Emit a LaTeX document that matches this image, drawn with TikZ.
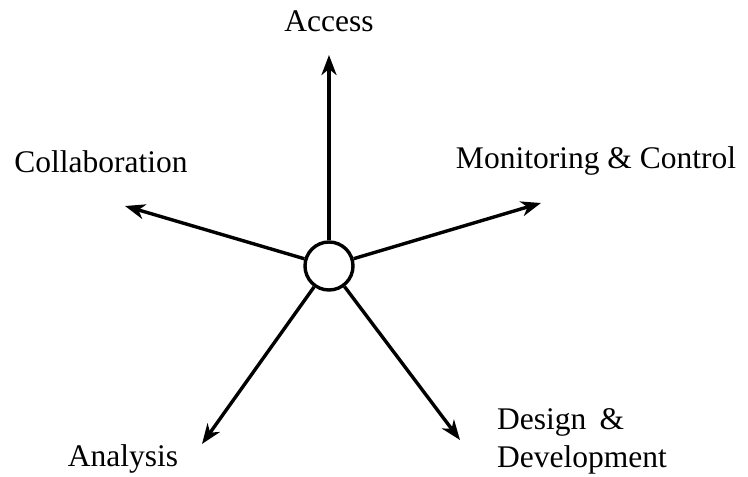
\documentclass[tikz,border=0pt]{standalone}
\usepackage{fontspec}
\setmainfont{Liberation Serif}
\usetikzlibrary{arrows.meta}
\begin{document}
\begin{tikzpicture}[x=1pt,y=-1pt,
  lbl/.style={font=\fontsize{31.5}{38}\selectfont, inner sep=0pt},
  spoke/.style={line width=3.4pt, -{Stealth[length=20pt,width=15pt,inset=6pt]}}]
\useasboundingbox (0,0) rectangle (748,477);
\node[circle, draw, line width=3.4pt, minimum size=48pt, inner sep=0pt] (c) at (329,266) {};
\coordinate (tA) at (329,55);
\coordinate (tC) at (125,206);
\coordinate (tM) at (541,203);
\coordinate (tL) at (202,444);
\coordinate (tR) at (460,440);
\draw[spoke] (c) -- (tA);
\draw[spoke] (c) -- (tC);
\draw[spoke] (c) -- (tM);
\draw[spoke] (c) -- (tL);
\draw[spoke] (c) -- (tR);
\node[lbl] (access) at (329,21) {Access};
\node[lbl] (collab) at (101,162) {Collaboration};
\node[lbl] (monit) at (596,161) {Monitoring \& Control};
\node[lbl, anchor=west, align=left] (design) at (497,441) {Design \,\&\\Development};
\node[lbl] (analysis) at (123,459) {Analysis};
\end{tikzpicture}
\end{document}
